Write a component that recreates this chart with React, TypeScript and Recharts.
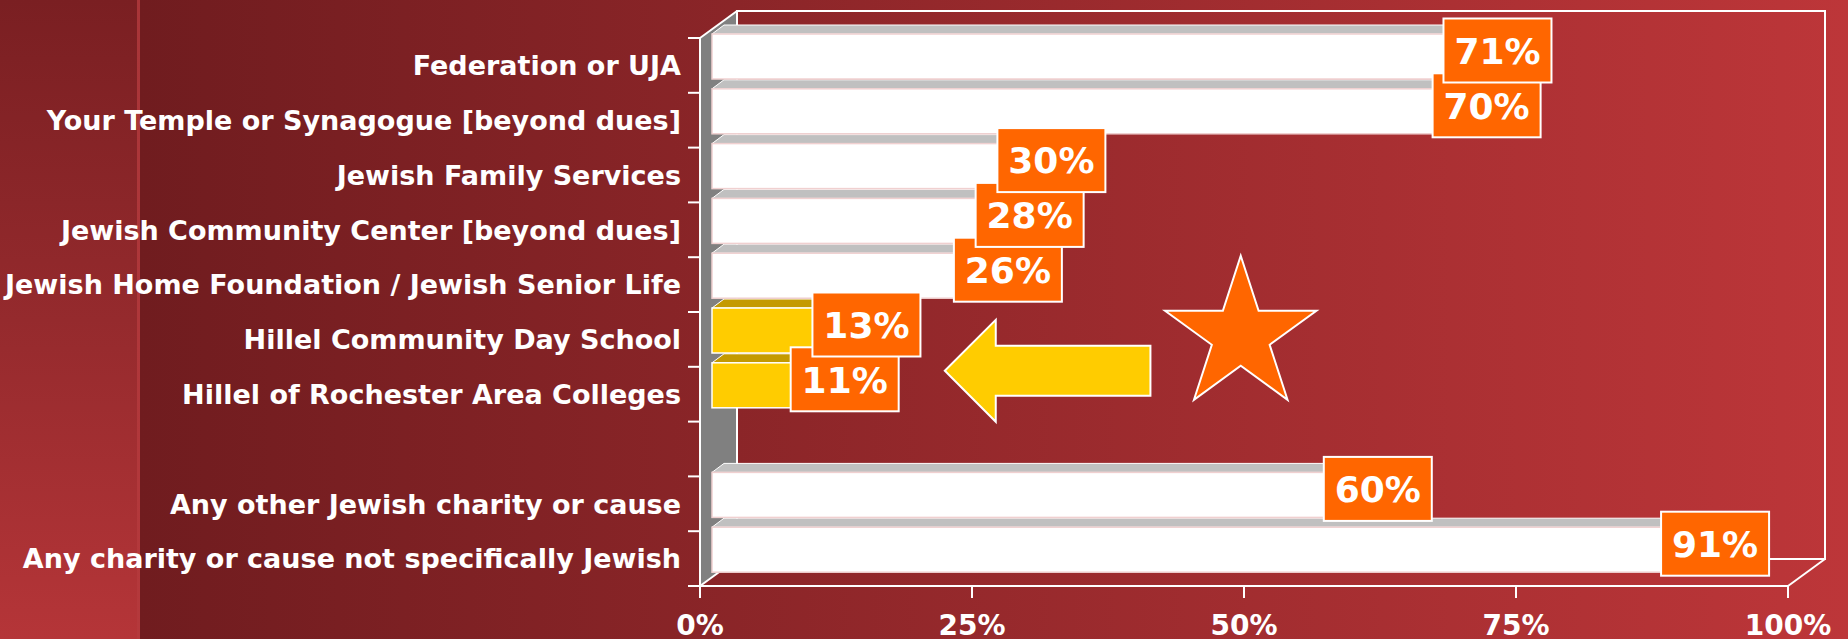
import React from 'react';
import { BarChart, Bar, XAxis, YAxis, LabelList, ReferenceArea, ReferenceDot } from 'recharts';

const CATEGORIES = [
  'Federation or UJA',
  'Your Temple or Synagogue [beyond dues]',
  'Jewish Family Services',
  'Jewish Community Center [beyond dues]',
  'Jewish Home Foundation / Jewish Senior Life',
  'Hillel Community Day School',
  'Hillel of Rochester Area Colleges',
  '',
  'Any other Jewish charity or cause',
  'Any charity or cause not specifically Jewish',
];
const VALUES: (number | null)[] = [71, 70, 30, 28, 26, 13, 11, null, 60, 91];
const HIGHLIGHT = [false, false, false, false, false, true, true, false, false, false];
const X_TICKS = [0, 25, 50, 75, 100];
const X_TICK_LABELS = ['0%', '25%', '50%', '75%', '100%'];

// annotations (in data units)
const STAR_X = 49.7;
const STAR_ROW = 'Hillel Community Day School';
const ARROW_TIP_X = 22.5;
const ARROW_END_X = 41.4;
const ARROW_ROW_TOP = 'Hillel Community Day School';
const ARROW_ROW_BOTTOM = 'Hillel of Rochester Area Colleges';

const FONT = 'DejaVu Sans';

// data ordered bottom-to-top so that upper rows' labels paint last
const data = CATEGORIES.map((name, i) => ({
  name,
  value: VALUES[i],
  highlight: HIGHLIGHT[i],
})).reverse();

const BOX_DX = 37;
const BOX_DY = 27;
const BAR_SHIFT_X = 12;
const BAR_SHIFT_Y = 9;
const BAR_DEPTH_X = 12;
const BAR_DEPTH_Y = 9;

function Bar3D(props: any) {
  const { x, y, width, height, payload } = props;
  if (!payload || payload.value == null || !(width > 0)) return null;
  const hl = payload.highlight;
  const front = hl ? '#ffcc00' : '#ffffff';
  const top = hl ? '#c49a00' : '#c0c0c0';
  const side = hl ? '#a88400' : '#9a9a9a';
  const fx = x + BAR_SHIFT_X;
  const fy = y - BAR_SHIFT_Y;
  const dx = BAR_DEPTH_X;
  const dy = BAR_DEPTH_Y;
  return (
    <g>
      <polygon
        points={`${fx},${fy} ${fx + width},${fy} ${fx + width + dx},${fy - dy} ${fx + dx},${fy - dy}`}
        fill={top}
        stroke="#ffffff"
        strokeWidth={1}
      />
      <polygon
        points={`${fx + width},${fy} ${fx + width + dx},${fy - dy} ${fx + width + dx},${fy + height - dy} ${fx + width},${fy + height}`}
        fill={side}
        stroke="#ffffff"
        strokeWidth={1}
      />
      <rect x={fx} y={fy} width={width} height={height} fill={front} stroke={hl ? '#ffffff' : '#f0d0d0'} strokeWidth={1.5} />
    </g>
  );
}

function ValueLabel(props: any) {
  const vb = props.viewBox || {};
  const x = vb.x ?? props.x;
  const y = vb.y ?? props.y;
  const width = vb.width ?? props.width;
  const height = vb.height ?? props.height;
  const value = props.value;
  if (value == null || x == null) return null;
  const cx = x + width + 25;
  const cy = y + height / 2 - 15;
  return (
    <g>
      <rect x={cx - 54} y={cy - 32} width={108} height={64} fill="#ff6600" stroke="#ffffff" strokeWidth={2} />
      <text
        x={cx}
        y={cy}
        dy="0.37em"
        textAnchor="middle"
        fill="#ffffff"
        fontSize={36}
        fontWeight="bold"
        fontFamily={FONT}
      >
        {`${value}%`}
      </text>
    </g>
  );
}

function CatTick(props: any) {
  const { x, y, payload } = props;
  return (
    <text x={x} y={y} dy="0.36em" textAnchor="end" fill="#ffffff" fontSize={27} fontWeight="bold" fontFamily={FONT}>
      {payload.value}
    </text>
  );
}

function Frame(props: any) {
  const { x, y, width: w, height: h } = props;
  if (x == null) return null;
  const n = CATEGORIES.length;
  const band = h / n;
  const st = { stroke: '#ffffff', strokeWidth: 2, fill: 'none' } as const;
  const ticks = [];
  for (let i = 0; i <= n; i++) {
    ticks.push(<line key={i} x1={x - 12} y1={y + i * band} x2={x} y2={y + i * band} {...st} />);
  }
  return (
    <g>
      <polygon
        points={`${x},${y} ${x + BOX_DX},${y - BOX_DY} ${x + BOX_DX},${y + h - BOX_DY} ${x},${y + h}`}
        fill="#808080"
      />
      <polyline
        points={`${x + BOX_DX},${y + h - BOX_DY} ${x + BOX_DX},${y - BOX_DY} ${x + w + BOX_DX},${y - BOX_DY} ${x + w + BOX_DX},${y + h - BOX_DY} ${x + BOX_DX},${y + h - BOX_DY}`}
        {...st}
      />
      <line x1={x} y1={y} x2={x + BOX_DX} y2={y - BOX_DY} {...st} />
      <line x1={x} y1={y + h} x2={x + BOX_DX} y2={y + h - BOX_DY} {...st} />
      <line x1={x + w} y1={y + h} x2={x + w + BOX_DX} y2={y + h - BOX_DY} {...st} />
      <line x1={x} y1={y} x2={x} y2={y + h} {...st} />
      {ticks}
    </g>
  );
}

function Star(props: any) {
  const { cx, cy } = props;
  if (cx == null) return null;
  const R = 79.6;
  const r = 30.4;
  const ccx = cx;
  const ccy = cy - 4;
  const pts: string[] = [];
  for (let i = 0; i < 10; i++) {
    const ang = (-90 + i * 36) * (Math.PI / 180);
    const rad = i % 2 === 0 ? R : r;
    pts.push(`${ccx + rad * Math.cos(ang)},${ccy + rad * Math.sin(ang)}`);
  }
  return <polygon points={pts.join(' ')} fill="#ff6600" stroke="#ffffff" strokeWidth={2} />;
}

function Arrow(props: any) {
  const { x, y, width, height } = props;
  if (x == null) return null;
  const cy = y + height / 2 + 4;
  const headLen = height * 0.465;
  const headHalf = height * 0.465;
  const shaftHalf = height * 0.228;
  const pts = [
    [x, cy],
    [x + headLen, cy - headHalf],
    [x + headLen, cy - shaftHalf],
    [x + width, cy - shaftHalf],
    [x + width, cy + shaftHalf],
    [x + headLen, cy + shaftHalf],
    [x + headLen, cy + headHalf],
  ]
    .map((p) => p.join(','))
    .join(' ');
  return <polygon points={pts} fill="#ffcc00" stroke="#ffffff" strokeWidth={2} />;
}

export default function App() {
  return (
    <div
      style={{
        position: 'absolute',
        left: 0,
        top: 0,
        width: 1848,
        height: 639,
        overflow: 'hidden',
        background: 'linear-gradient(to right, #701c1f 0px, #701c1f 140px, #bd3639 1848px)',
        fontFamily: FONT,
      }}
    >
      <div
        style={{
          position: 'absolute',
          left: 0,
          top: 0,
          width: 137,
          height: 639,
          background: 'linear-gradient(to bottom, #7a1f22 0%, #952a2d 50%, #b53538 100%)',
        }}
      />
      <div
        style={{
          position: 'absolute',
          left: 137,
          top: 0,
          width: 3,
          height: 639,
          background: 'linear-gradient(to bottom, #a83538 0%, #b5393c 100%)',
        }}
      />
      <div style={{ position: 'absolute', left: 0, top: 0 }}>
        <BarChart
          width={1848}
          height={639}
          layout="vertical"
          data={data}
          margin={{ top: 38, right: 60, bottom: 0, left: 0 }}
          barSize={45}
          style={{ fontFamily: FONT }}
        >
          <ReferenceArea x1={0} x2={100} shape={Frame} ifOverflow="visible" />
          <XAxis
            type="number"
            domain={[0, 100]}
            ticks={X_TICKS}
            interval={0}
            tickFormatter={(v: number) => X_TICK_LABELS[X_TICKS.indexOf(v)] ?? `${v}%`}
            height={53}
            tickSize={12}
            tickMargin={17}
            tickLine={{ stroke: '#ffffff', strokeWidth: 2 }}
            axisLine={{ stroke: '#ffffff', strokeWidth: 2 }}
            tick={{ fill: '#ffffff', fontSize: 28, fontWeight: 'bold', fontFamily: FONT }}
          />
          <YAxis
            type="category"
            dataKey="name"
            reversed
            width={700}
            interval={0}
            tickSize={12}
            tickMargin={7}
            tickLine={false}
            axisLine={{ stroke: '#ffffff', strokeWidth: 2 }}
            tick={<CatTick />}
          />
          <Bar dataKey="value" isAnimationActive={false} shape={Bar3D}>
            <LabelList dataKey="value" content={ValueLabel} />
          </Bar>
          <ReferenceArea
            x1={ARROW_TIP_X}
            x2={ARROW_END_X}
            y1={ARROW_ROW_TOP}
            y2={ARROW_ROW_BOTTOM}
            shape={Arrow}
            ifOverflow="visible"
          />
          <ReferenceDot x={STAR_X} y={STAR_ROW} r={80} shape={Star} ifOverflow="visible" />
        </BarChart>
      </div>
    </div>
  );
}
